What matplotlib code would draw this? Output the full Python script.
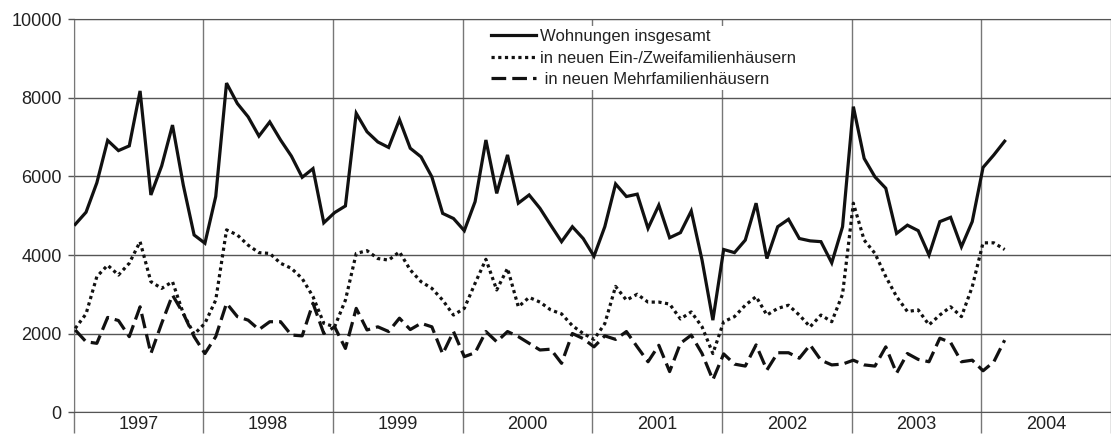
import matplotlib

matplotlib.use("Agg")
import matplotlib.pyplot as plt
import numpy as np

plt.rcParams["font.family"] = ["Liberation Sans", "DejaVu Sans"]

# monthly values, Jan 1997 .. Mar 2004
years = ["1997", "1998", "1999", "2000", "2001", "2002", "2003", "2004"]

wohnungen_insgesamt = [
    4780, 5090, 5840, 6920, 6660, 6780, 8180, 5530, 6270, 7310, 5780, 4510,  # 1997
    4300, 5490, 8380, 7860, 7520, 7030, 7390, 6930, 6520, 5980, 6200, 4820,  # 1998
    5080, 5250, 7610, 7140, 6880, 6740, 7450, 6720, 6500, 5990, 5060, 4930,  # 1999
    4620, 5360, 6930, 5570, 6550, 5320, 5530, 5190, 4760, 4340, 4720, 4420,  # 2000
    3970, 4720, 5810, 5490, 5550, 4680, 5270, 4440, 4570, 5120, 3870, 2340,  # 2001
    4140, 4060, 4380, 5320, 3910, 4720, 4910, 4420, 4360, 4340, 3800, 4720,  # 2002
    7780, 6460, 5990, 5700, 4550, 4760, 4620, 4000, 4850, 4960, 4210, 4850,  # 2003
    6230, 6550, 6900,                                                        # 2004
]
ein_zweifamilien = [
    2130, 2500, 3450, 3740, 3490, 3790, 4340, 3320, 3150, 3320, 2510, 1980,
    2260, 2850, 4640, 4510, 4250, 4060, 4040, 3790, 3660, 3400, 2940, 2260,
    2170, 2850, 4040, 4110, 3910, 3870, 4080, 3620, 3320, 3150, 2850, 2470,
    2640, 3280, 3890, 3110, 3660, 2680, 2920, 2800, 2600, 2500, 2200, 2000,
    1850, 2250, 3200, 2850, 3000, 2800, 2800, 2750, 2370, 2550, 2170, 1490,
    2300, 2430, 2720, 2940, 2470, 2640, 2720, 2470, 2170, 2470, 2300, 3000,
    5320, 4380, 4040, 3450, 2940, 2560, 2600, 2220, 2470, 2680, 2430, 3190,
    4310, 4310, 4140,
]
mehrfamilien = [
    2090, 1790, 1750, 2410, 2330, 1920, 2680, 1490, 2260, 2980, 2510, 1920,
    1490, 1920, 2770, 2430, 2340, 2100, 2300, 2300, 1960, 1940, 2770, 2000,
    2170, 1620, 2640, 2090, 2170, 2050, 2390, 2100, 2260, 2170, 1480, 2050,
    1410, 1510, 2050, 1790, 2050, 1920, 1750, 1580, 1600, 1240, 2000, 1870,
    1660, 1940, 1850, 2050, 1660, 1280, 1700, 1030, 1750, 1960, 1490, 820,
    1480, 1220, 1170, 1710, 1070, 1510, 1510, 1370, 1710, 1320, 1200, 1220,
    1320, 1200, 1170, 1660, 990, 1490, 1340, 1280, 1880, 1770, 1280, 1320,
    1050, 1280, 1830,
]
labels = [
    "Wohnungen insgesamt",
    "in neuen Ein-/Zweifamilienhäusern",
    " in neuen Mehrfamilienhäusern",
]
y_ticks = [0, 2000, 4000, 6000, 8000, 10000]

fig = plt.figure(figsize=(11.11, 4.48), dpi=100)
ax = fig.add_axes([73.5 / 1111, 36 / 448, 1 - 73.5 / 1111, 392.5 / 448])

x = np.arange(len(wohnungen_insgesamt)) + 0.16
ax.plot(x, wohnungen_insgesamt, color="#111111", lw=2.3, solid_joinstyle="miter",
        label=labels[0], zorder=3)
ax.plot(x, ein_zweifamilien, color="#111111", lw=2.3, linestyle=(0, (1, 1.1)),
        dash_capstyle="butt", label=labels[1], zorder=3)
ax.plot(x, mehrfamilien, color="#111111", lw=2.3, linestyle=(0, (4.6, 1.9)),
        dash_capstyle="butt", label=labels[2], zorder=3)

ax.set_xlim(0, (1111 - 73.5) / 10.875)
ax.set_ylim(0, 10000)

# year boundaries with long ticks, year names in between
ax.set_xticks(np.arange(0, 12 * len(years) + 1, 12))
ax.set_xticklabels([])
ax.set_xticks(np.arange(len(years)) * 12 + 6, minor=True)
ax.set_xticklabels(years, minor=True)
ax.tick_params(axis="x", which="major", length=15, width=1, color="#777777")
ax.tick_params(axis="x", which="minor", length=0, labelsize=13, pad=3,
               labelcolor="#222222")
ax.set_yticks(y_ticks)
ax.set_yticklabels([str(v) for v in y_ticks])
ax.tick_params(axis="y", length=4.5, width=1, color="#555555", labelsize=13, pad=4,
               labelcolor="#222222")

ax.grid(axis="x", which="major", color="#777777", lw=1, zorder=1)
ax.grid(axis="y", color="#555555", lw=1, zorder=1)
ax.spines["right"].set_visible(False)
ax.spines["left"].set_color("#777777")
ax.spines["top"].set_color("#555555")
ax.spines["bottom"].set_color("#555555")

leg = ax.legend(
    loc="upper left", bbox_to_anchor=(488 / 1111, 1 - 26 / 448),
    bbox_transform=fig.transFigure, fontsize=12, frameon=True, fancybox=False,
    borderpad=0.2, borderaxespad=0, labelspacing=0.38, handlelength=2.7,
    handletextpad=0.2,
)
leg.get_frame().set_facecolor("white")
leg.get_frame().set_edgecolor("none")
leg.get_frame().set_alpha(1)
leg.set_zorder(5)
for t in leg.get_texts():
    t.set_color("#222222")

fig.savefig("out.png", dpi=100)
